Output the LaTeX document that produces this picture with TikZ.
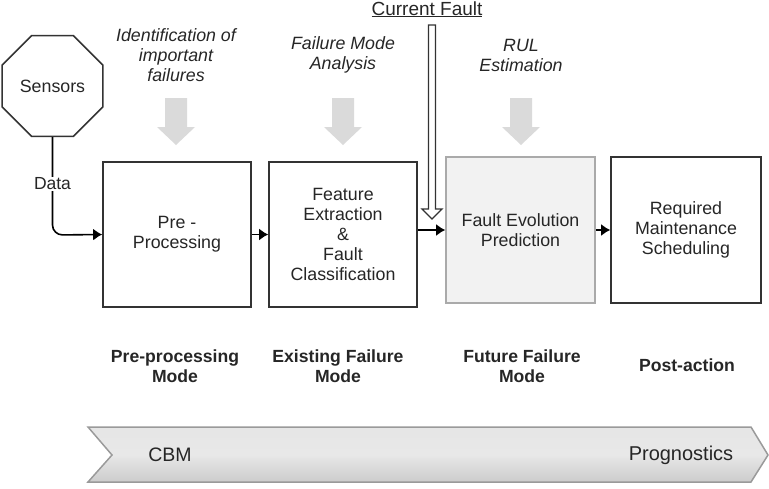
\documentclass[tikz,border=0pt]{standalone}
\usepackage{fontspec}
\setmainfont{Liberation Sans}
\usetikzlibrary{shapes.geometric,arrows.meta}
\definecolor{txt}{HTML}{262626}
\definecolor{boxline}{HTML}{333333}
\definecolor{lightline}{HTML}{AAAAAA}
\definecolor{lightfill}{HTML}{F2F2F2}
\definecolor{graya}{HTML}{DADADA}
\definecolor{bandline}{HTML}{9A9A9A}
\tikzset{
  stagebox/.style={draw=boxline, line width=1.6pt, minimum width=148pt, minimum height=145pt,
    inner sep=0pt, align=center, text=txt, font=\fontsize{17.8}{20}\selectfont},
  italiclabel/.style={align=center, text=txt, font=\fontsize{17.8}{20}\selectfont\itshape, inner sep=0pt},
  modelabel/.style={align=center, text=txt, font=\fontsize{17.6}{20}\selectfont\bfseries, inner sep=0pt},
  flow/.style={line width=1.6pt, draw=black, -{Latex[length=9pt,width=12pt]}},
  bigarrow/.style={fill=graya},
}
\begin{document}
\begin{tikzpicture}[x=1pt,y=-1pt]
\useasboundingbox (0,0) rectangle (769,488);

% band
\shade[top color=white!90!black, bottom color=white!80!black, middle color=white!91!black, draw=bandline, line width=1.5pt]
  (88,427) -- (751,427) -- (768,455) -- (751,482) -- (88,482) -- (112,455) -- cycle;
\node[text=txt, font=\fontsize{19.5}{22}\selectfont] (cbm) at (170,455) {CBM};
\node[text=txt, font=\fontsize{20}{22}\selectfont] (prog) at (681,455) {Prognostics};

% sensors
\node[regular polygon, regular polygon sides=8, minimum size=109pt, inner sep=0pt,
  draw=boxline, line width=1.6pt, text=txt, font=\fontsize{17.8}{20}\selectfont] (sensors) at (52.5,86) {Sensors};

% boxes
\node[stagebox] (b1) at (177,234.5) {Pre -\\Processing};
\node[stagebox] (b2) at (343,234.5) {Feature\\Extraction\\\&\\Fault\\Classification};
\node[stagebox, draw=lightline, fill=lightfill, minimum width=149pt, minimum height=146pt] (b3) at (520.5,230) {Fault Evolution\\Prediction};
\node[stagebox, minimum width=150pt, minimum height=146pt] (b4) at (686,230) {Required\\Maintenance\\Scheduling};

% data connector
\coordinate (bend) at (52.5,235);
\draw[flow, rounded corners=10pt] (sensors.south) -- (bend) -- (b1.west);
\node[fill=white, text=txt, font=\fontsize{17.5}{20}\selectfont, inner sep=1pt] (data) at (52.5,184) {Data};

% flow arrows
\draw[flow] (b1.east) -- (b2.west);
\draw[flow] (b2.east |- b3.west) -- (b3.west);
\draw[flow] (b3.east) -- (b4.west);

% italic labels
\node[italiclabel] (l1) at (176,55) {Identification of\\important\\failures};
\node[italiclabel] (l2) at (343,55) {Failure Mode\\Analysis};
\node[italiclabel] (l3) at (521,55) {RUL\\Estimation};

% gray arrows
\foreach \x in {176,343,521} {
  \fill[bigarrow, shift={(\x pt,0)}] (-11,98) -- (11,98) -- (11,127) -- (19,127) -- (0,145) -- (-19,127) -- (-11,127) -- cycle;
}

% current fault
\node[anchor=base, text=txt, font=\fontsize{19}{20}\selectfont, inner sep=0pt] (cf) at (427,15) {\underline{Current Fault}};
\draw[draw=boxline, fill=white, line width=1.3pt]
  (428.5,25) -- (435.5,25) -- (435.5,209) -- (442,209) -- (432,219) -- (422,209) -- (428.5,209) -- cycle;

% mode labels
\node[modelabel] (m1) at (175,366) {Pre-processing\\Mode};
\node[modelabel] (m2) at (338,366) {Existing Failure\\Mode};
\node[modelabel] (m3) at (522,366) {Future Failure\\Mode};
\node[modelabel] (m4) at (687,365) {Post-action};
\end{tikzpicture}
\end{document}
